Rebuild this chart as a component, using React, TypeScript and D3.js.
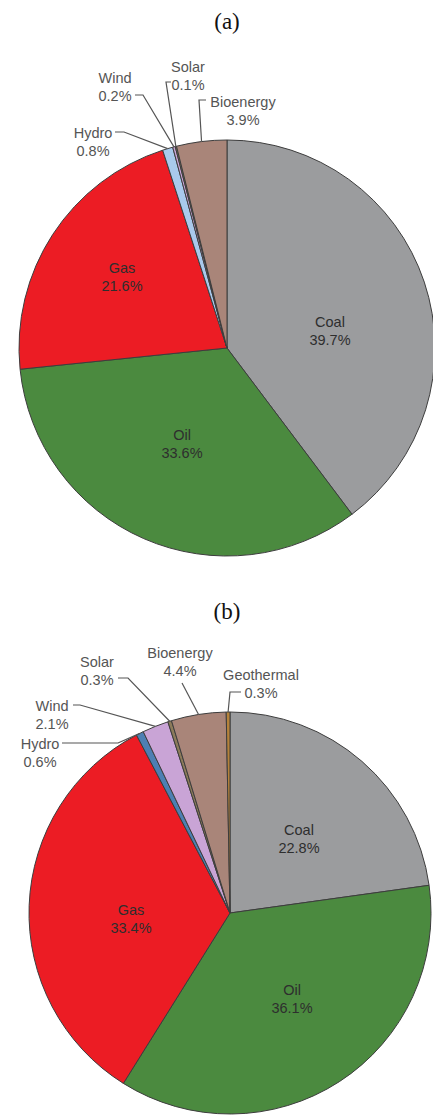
import React from "react";
import * as d3 from "d3";

// ---- Data ----
const sourcesA = ["Coal", "Oil", "Gas", "Hydro", "Wind", "Solar", "Bioenergy"];
const sharesA = [39.7, 33.6, 21.6, 0.8, 0.2, 0.1, 3.9];

const sourcesB = ["Coal", "Oil", "Gas", "Hydro", "Wind", "Solar", "Bioenergy", "Geothermal"];
const sharesB = [22.8, 36.1, 33.4, 0.6, 2.1, 0.3, 4.4, 0.3];

const panelTitles = ["(a)", "(b)"];

// ---- Styles ----
const colors: Record<string, string> = {
  Coal: "#9b9c9e",
  Oil: "#4b8a3f",
  Gas: "#ec1c24",
  Hydro: "#a9c9ec",
  Wind: "#c9a4d6",
  Solar: "#8c7b5a",
  Bioenergy: "#a98579",
  Geothermal: "#b5823a",
};
const hydroColorB = "#4d7fb3";

// ---- Layout (label positions, not data) ----
type Lbl = { x: number; y: number; inside?: boolean; leader?: [number, number][] };
const layoutA = {
  cx: 227, cy: 348, r: 208, titleY: 29,
  labels: {
    Coal: { x: 330, y: 327, inside: true },
    Oil: { x: 182, y: 440, inside: true },
    Gas: { x: 122, y: 273, inside: true },
    Hydro: { x: 93, y: 138, leader: [[115, 132], [124, 132]] },
    Wind: { x: 115, y: 83, leader: [[135, 95], [143, 95]] },
    Solar: { x: 188, y: 72, leader: [[171, 82], [166, 82]] },
    Bioenergy: { x: 243, y: 107, leader: [[206, 100], [199, 100]] },
  } as Record<string, Lbl>,
};
const layoutB = {
  cx: 230, cy: 913, r: 201, titleY: 619,
  labels: {
    Coal: { x: 299, y: 835, inside: true },
    Oil: { x: 292, y: 995, inside: true },
    Gas: { x: 131, y: 915, inside: true },
    Hydro: { x: 40, y: 749, leader: [[62, 743], [118, 743]] },
    Wind: { x: 52, y: 711, leader: [[73, 705], [80, 705]] },
    Solar: { x: 97, y: 667, leader: [[118, 678], [128, 678]] },
    Bioenergy: { x: 180, y: 658, leader: [[182, 683]] },
    Geothermal: { x: 261, y: 680, leader: [[241, 692], [230, 692]] },
  } as Record<string, Lbl>,
};

const LINE_H = 18;
const FONT = "'Liberation Sans', Arial, Helvetica, sans-serif";

function Pie({ names, values, layout, title, hydroColor }: any) {
  const items = names.map((n: string, i: number) => ({ name: n, value: values[i] }));
  const pie = d3.pie<any>().sort(null).value((d) => d.value).startAngle(0).endAngle(2 * Math.PI);
  const arcs = pie(items);
  const arc = d3.arc<any>().innerRadius(0).outerRadius(layout.r);
  const { cx, cy, r } = layout;
  return (
    <g>
      <text x={227} y={layout.titleY} textAnchor="middle"
        style={{ fontFamily: "'Liberation Serif', 'Times New Roman', serif", fontSize: 23 }} fill="#111">
        {title}
      </text>
      <g transform={`translate(${cx},${cy})`}>
        {arcs.map((a: any) => (
          <path key={a.data.name} d={arc(a) || ""}
            fill={a.data.name === "Hydro" && hydroColor ? hydroColor : colors[a.data.name]}
            stroke="#3d3d3d" strokeWidth={1} strokeLinejoin="round" />
        ))}
      </g>
      {arcs.map((a: any) => {
        const lb: Lbl = layout.labels[a.data.name];
        if (!lb) return null;
        const mid = (a.startAngle + a.endAngle) / 2;
        const ex = cx + r * Math.sin(mid);
        const ey = cy - r * Math.cos(mid);
        const pts = lb.leader ? [...lb.leader, [ex, ey]] : null;
        const pct = `${a.data.value.toFixed(1)}%`;
        return (
          <g key={"l" + a.data.name}>
            {pts && (
              <polyline points={pts.map((p) => p.join(",")).join(" ")} fill="none"
                stroke="#555" strokeWidth={1.2} />
            )}
            <text x={lb.x} y={lb.y} textAnchor="middle"
              style={{ fontFamily: FONT, fontSize: 14.5 }}
              fill={lb.inside ? "#2e2e2e" : "#555"}>
              <tspan x={lb.x} dy={0}>{a.data.name}</tspan>
              <tspan x={lb.x} dy={LINE_H}>{pct}</tspan>
            </text>
          </g>
        );
      })}
    </g>
  );
}

export default function App() {
  return (
    <svg width={433} height={1115} style={{ position: "absolute", left: 0, top: 0, background: "#fff" }}>
      <rect width={433} height={1115} fill="#fff" />
      <Pie names={sourcesA} values={sharesA} layout={layoutA} title={panelTitles[0]} />
      <Pie names={sourcesB} values={sharesB} layout={layoutB} title={panelTitles[1]} hydroColor={hydroColorB} />
    </svg>
  );
}
